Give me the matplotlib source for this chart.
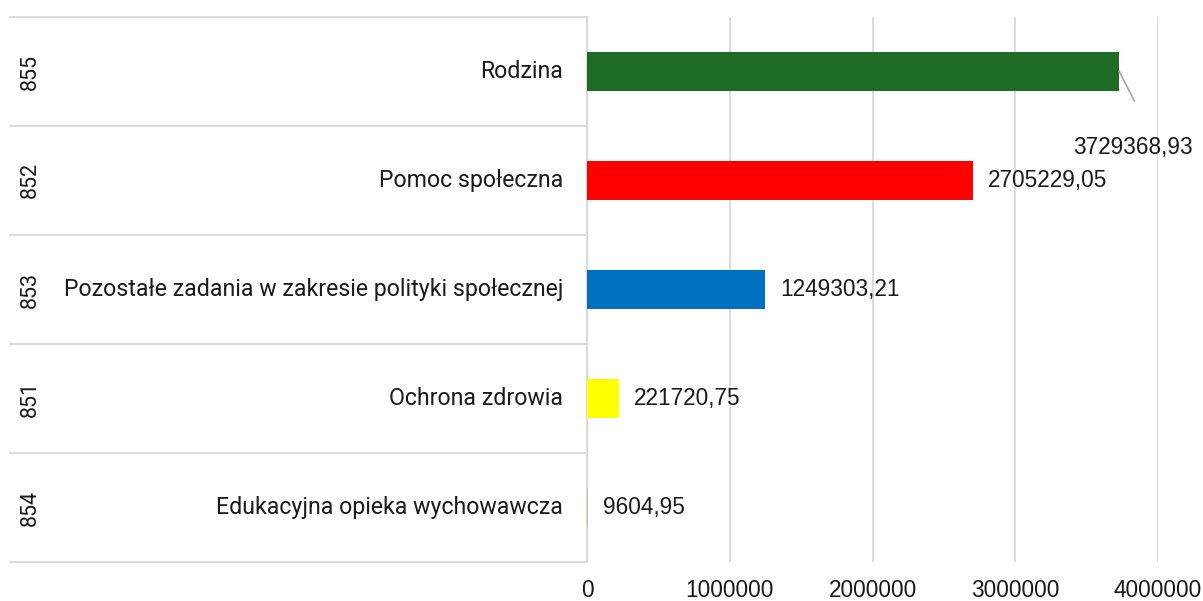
import matplotlib.pyplot as plt

# data (top to bottom)
codes = ["855", "852", "853", "851", "854"]
names = [
    "Rodzina",
    "Pomoc społeczna",
    "Pozostałe zadania w zakresie polityki społecznej",
    "Ochrona zdrowia",
    "Edukacyjna opieka wychowawcza",
]
values = [3729368.93, 2705229.05, 1249303.21, 221720.75, 9604.95]
value_labels = ["3729368,93", "2705229,05", "1249303,21", "221720,75", "9604,95"]
colors = ["#1E6B24", "#FF0000", "#0070C0", "#FFFF00", "#A9D18E"]
xticks = [0, 1000000, 2000000, 3000000, 4000000]

plt.rcParams["font.family"] = ["Roboto", "DejaVu Sans"]
num_font = ["Liberation Sans", "DejaVu Sans"]
W, H = 1203, 601
fig = plt.figure(figsize=(W / 100, H / 100), dpi=100)

x0, x1, y0, y1 = 587, 1158, 17, 562
ax = fig.add_axes([x0 / W, 1 - y1 / H, (x1 - x0) / W, (y1 - y0) / H])

grid_c = "#D9D9D9"
txt_c = "#1A1A1A"
ypos = list(range(len(values)))
ax.barh(ypos, values, height=0.36, color=colors, zorder=3)
ax.set_ylim(len(values) - 0.5, -0.5)
ax.set_xlim(0, 4000000)
ax.set_xticks(xticks)
ax.set_xticklabels([str(t) for t in xticks], fontsize=16.3, color=txt_c,
                   family=num_font)
ax.tick_params(axis="x", length=0, pad=12)
ax.set_yticks([])
ax.grid(axis="x", color=grid_c, linewidth=1.3, zorder=0)
for s in ["top", "right", "bottom"]:
    ax.spines[s].set_visible(False)
ax.spines["left"].set_color(grid_c)
ax.spines["left"].set_linewidth(1.3)

# label area on the left (Excel multi-level category axis)
px = 1 / (x1 - x0)
ytr = ax.get_yaxis_transform()
for b in [i - 0.5 for i in range(len(values) + 1)]:
    ax.plot([(10 - x0) * px, 0], [b, b], transform=ytr, color=grid_c,
            linewidth=1.3, clip_on=False)
for i, (c, n) in enumerate(zip(codes, names)):
    ax.text((563 - x0) * px, i, n, transform=ytr, ha="right", va="center",
            fontsize=16.7, color=txt_c)
    ax.text((30 - x0) * px, i, c, transform=ytr, ha="center", va="center",
            rotation=90, fontsize=15.5, color=txt_c)

# value labels
for i, (v, lab) in enumerate(zip(values, value_labels)):
    if i == 0:
        ax.plot([v, v + 105000], [0, 0.27], color="#A6A6A6", linewidth=1.2,
                clip_on=False, zorder=4)
        ax.text(v + 96000, 0.70, lab, ha="center", va="center", fontsize=16.3,
                color=txt_c, family=num_font, clip_on=False)
    else:
        ax.text(v + 105000, i, lab, ha="left", va="center", fontsize=16.3,
                color=txt_c, family=num_font)

fig.savefig("out.png", dpi=100)
